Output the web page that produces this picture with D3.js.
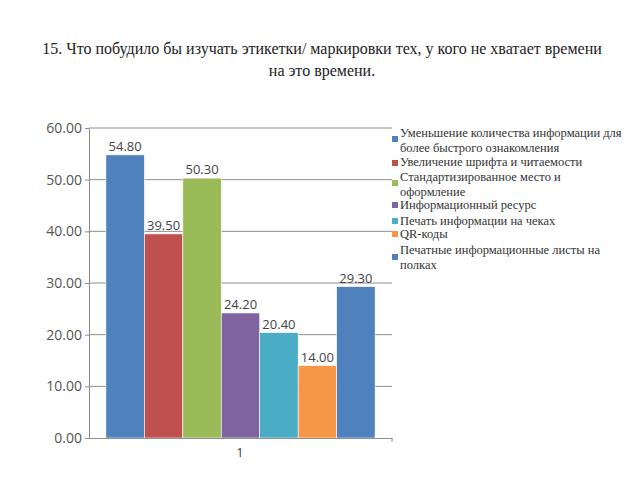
<!DOCTYPE html>
<html>
<head>
<meta charset="utf-8">
<script src="https://cdn.jsdelivr.net/npm/d3@7"></script>
<style>
  body { margin: 0; background: #fff; }
  .serif { font-family: "Liberation Serif", "Times New Roman", serif; }
</style>
</head>
<body>
<div id="chartContainer"></div>
<script>
var titleLines = [
    "15.  Что побудило бы изучать этикетки/ маркировки тех, у кого не хватает времени",
    "на это времени."
];
var category = ["1"];
var seriesNames = [
    ["Уменьшение количества информации для", "более быстрого ознакомления"],
    ["Увеличение шрифта и читаемости"],
    ["Стандартизированное место и", "оформление"],
    ["Информационный ресурс"],
    ["Печать информации на чеках"],
    ["QR-коды"],
    ["Печатные информационные листы на", "полках"]
];
var values = [54.8, 39.5, 50.3, 24.2, 20.4, 14.0, 29.3];
var colors = ["#4f81bd", "#c0504d", "#9bbb59", "#8064a2", "#4bacc6", "#f79646", "#4f81bd"];
var yTicks = [0, 10, 20, 30, 40, 50, 60];

function init() {
    var ww = 640, h = 480;
    var left = 89, right = 392, top = 128, bottom = 438;

    var svg = d3.select("#chartContainer")
        .append("svg")
        .attr("width", ww)
        .attr("height", h);

    // title
    svg.append("g").selectAll("text")
        .data(titleLines)
        .enter()
        .append("text")
        .attr("class", "serif")
        .attr("x", 322)
        .attr("y", function(d, i) { return 54 + i * 22; })
        .attr("text-anchor", "middle")
        .style("font-size", "16px")
        .attr("fill", "#222")
        .text(function(d) { return d; });

    var y = d3.scaleLinear().domain([0, 60]).range([bottom, top]);
    var x0 = d3.scaleBand().domain(category).range([left, right]).paddingInner(0).paddingOuter(0.0628);
    var x1 = d3.scaleBand().domain(d3.range(values.length)).range([0, x0.bandwidth()]);

    // gridlines
    svg.append("g").selectAll("line")
        .data(yTicks.slice(1))
        .enter()
        .append("line")
        .attr("x1", left).attr("x2", right)
        .attr("y1", function(d) { return y(d); })
        .attr("y2", function(d) { return y(d); })
        .attr("stroke", "#8c8c8c")
        .attr("stroke-width", 1);

    // y axis
    var yAxis = svg.append("g")
        .attr("transform", "translate(" + left + ",0)")
        .call(d3.axisLeft(y).tickValues(yTicks).tickFormat(d3.format(".2f")).tickSize(4).tickPadding(3));
    yAxis.select(".domain").attr("stroke", "#8c8c8c");
    yAxis.selectAll(".tick line").attr("stroke", "#8c8c8c");
    yAxis.selectAll("text")
        .style("font-family", "'Open Sans', sans-serif")
        .style("font-size", "14px")
        .attr("fill", "#555");

    // bars
    var g = svg.append("g")
        .attr("transform", "translate(" + x0(category[0]) + ",0)");

    g.selectAll("rect")
        .data(values)
        .enter()
        .append("rect")
        .attr("x", function(d, i) { return x1(i); })
        .attr("y", function(d) { return y(d); })
        .attr("width", x1.bandwidth())
        .attr("height", function(d) { return bottom - y(d); })
        .attr("fill", function(d, i) { return colors[i]; })
        .attr("stroke", "#fff")
        .attr("stroke-width", 0.6);

    g.selectAll("text")
        .data(values)
        .enter()
        .append("text")
        .attr("x", function(d, i) { return x1(i) + x1.bandwidth() / 2; })
        .attr("y", function(d) { return y(d) - 4; })
        .attr("text-anchor", "middle")
        .style("font-family", "'Open Sans', sans-serif")
        .style("font-size", "13px")
        .attr("fill", "#444")
        .text(function(d) { return d3.format(".2f")(d); });

    // x axis
    var xAxis = svg.append("g")
        .attr("transform", "translate(0," + bottom + ")")
        .call(d3.axisBottom(x0).tickSize(0).tickPadding(10));
    xAxis.select(".domain").attr("stroke", "#8c8c8c");
    xAxis.selectAll("text")
        .attr("x", -(x0(category[0]) + x0.bandwidth() / 2 - 240))
        .style("font-family", "'Open Sans', sans-serif")
        .style("font-size", "12px")
        .attr("fill", "#333");
    svg.append("line")
        .attr("x1", right).attr("x2", right)
        .attr("y1", bottom).attr("y2", bottom + 4)
        .attr("stroke", "#8c8c8c");

    // legend
    var legendRows = [133, 162, 177, 205, 221, 234, 250];
    var markerY = [139, 163, 183, 205, 221, 234, 257];
    var legend = svg.append("g").selectAll("g")
        .data(seriesNames)
        .enter()
        .append("g");

    legend.append("rect")
        .attr("x", 392)
        .attr("y", function(d, i) { return markerY[i] - 3; })
        .attr("width", 6)
        .attr("height", 6)
        .attr("fill", function(d, i) { return colors[i]; });

    legend.append("text")
        .attr("class", "serif")
        .attr("y", function(d, i) { return legendRows[i] + 4; })
        .style("font-size", "12.5px")
        .attr("fill", "#333")
        .selectAll("tspan")
        .data(function(d) { return d; })
        .enter()
        .append("tspan")
        .attr("x", 400)
        .attr("dy", function(d, i) { return i === 0 ? 0 : 15; })
        .text(function(d) { return d; });
}

window.onload = init;
</script>
</body>
</html>
